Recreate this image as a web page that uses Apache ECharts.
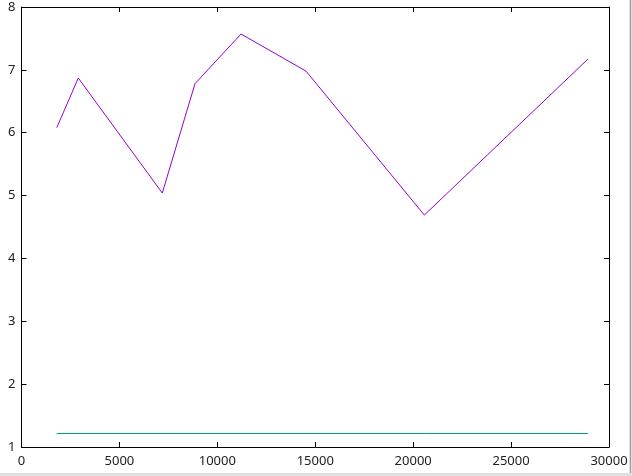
<!DOCTYPE html>
<html>
<head>
<meta charset="utf-8">
<script src="https://cdn.jsdelivr.net/npm/echarts@6/dist/echarts.min.js"></script>
<style>
html,body{margin:0;padding:0;background:#fff;}
#c{width:632px;height:476px;}
</style>
</head>
<body>
<div id="c"></div>
<script>
var xValues = [1800, 2900, 7190, 8860, 11210, 14530, 20570, 28920];
var purpleValues = [6.08, 6.87, 5.04, 6.78, 7.57, 6.98, 4.69, 7.17];
var greenValues = [1.215, 1.215, 1.215, 1.215, 1.215, 1.215, 1.215, 1.215];

var purpleData = xValues.map(function(x, i){ return [x, purpleValues[i]]; });
var greenData = xValues.map(function(x, i){ return [x, greenValues[i]]; });

var font = 'Noto Sans';
var chart = echarts.init(document.getElementById('c'), null, {renderer: 'canvas'});
var axisCommon = {
  axisLine: {show: true, onZero: false, lineStyle: {color: '#000', width: 1}},
  axisTick: {show: true, inside: true, length: 5, lineStyle: {color: '#000', width: 1}},
  splitLine: {show: false}
};
function plain(v){ return String(v); }
chart.setOption({
  animation: false,
  backgroundColor: '#fff',
  grid: {left: 21.5, right: 23, top: 7, bottom: 29, containLabel: false},
  xAxis: [
    Object.assign({type: 'value', min: 0, max: 30000, interval: 5000, position: 'bottom',
      axisLabel: {color: '#222', fontFamily: font, fontSize: 13, margin: 8, formatter: plain}}, axisCommon),
    Object.assign({type: 'value', min: 0, max: 30000, interval: 5000, position: 'top',
      axisLabel: {show: false}}, axisCommon)
  ],
  yAxis: [
    Object.assign({type: 'value', min: 1, max: 8, interval: 1, position: 'left',
      axisLabel: {color: '#222', fontFamily: font, fontSize: 13, margin: 6, formatter: plain}}, axisCommon),
    Object.assign({type: 'value', min: 1, max: 8, interval: 1, position: 'right',
      axisLabel: {show: false}}, axisCommon)
  ],
  series: [
    {type: 'line', data: purpleData, showSymbol: false, symbol: 'none',
      lineStyle: {color: '#9400d3', width: 1}, xAxisIndex: 0, yAxisIndex: 0},
    {type: 'line', data: greenData, showSymbol: false, symbol: 'none',
      lineStyle: {color: '#009e73', width: 1}, xAxisIndex: 0, yAxisIndex: 0}
  ],
  graphic: [
    {type: 'rect', shape: {x: 629, y: 0, width: 3, height: 476}, style: {fill: '#e0e0e0'}, silent: true},
    {type: 'rect', shape: {x: 630, y: 0, width: 1, height: 476}, style: {fill: '#a0a0a0'}, silent: true},
    {type: 'rect', shape: {x: 0, y: 473, width: 632, height: 3}, style: {fill: '#e0e0e0'}, silent: true}
  ]
});
</script>
</body>
</html>
